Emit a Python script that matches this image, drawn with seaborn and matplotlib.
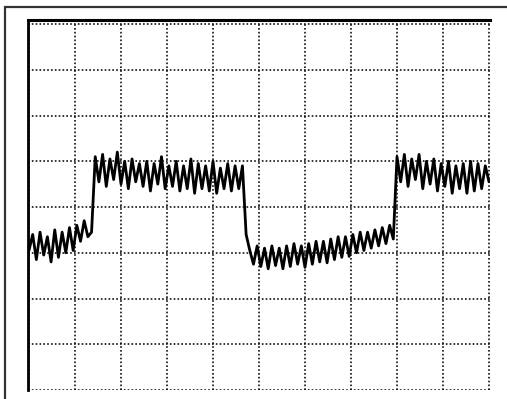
import numpy as np
import pandas as pd
import matplotlib
matplotlib.use("Agg")
import matplotlib.pyplot as plt
from matplotlib.patches import Rectangle
import seaborn as sns

# Oscilloscope trace, in screen divisions (10 x 8 graticule)
sample_step = 0.08  # divisions between samples
trace_values = [
    3.05, 3.40, 2.85, 3.45, 2.95, 3.35, 2.80, 3.50, 2.90, 3.45,
    3.00, 3.55, 3.05, 3.60, 3.25, 3.70, 3.35, 3.45,
    5.10, 4.55, 5.15, 4.45, 5.05, 4.60, 5.20, 4.50, 5.00, 4.40,
    5.05, 4.55, 4.95, 4.45, 5.00, 4.35, 4.95, 4.50, 5.10, 4.40,
    4.90, 4.45, 5.00, 4.35, 4.90, 4.40, 5.05, 4.30, 4.95, 4.40,
    4.90, 4.35, 5.00, 4.30, 4.85, 4.40, 4.95, 4.35, 4.90, 4.40, 4.90,
    3.40, 3.05, 2.75,
    3.15, 2.70, 3.10, 2.65, 3.15, 2.72, 3.10, 2.65, 3.15, 2.70,
    3.20, 2.75, 3.15, 2.68, 3.20, 2.75, 3.25, 2.80, 3.25, 2.78,
    3.30, 2.85, 3.35, 2.90, 3.35, 2.92, 3.40, 3.00, 3.45, 3.05,
    3.45, 3.10, 3.50, 3.15, 3.55, 3.20, 3.60, 3.30,
    5.10, 4.55, 5.15, 4.45, 5.05, 4.60, 5.15, 4.40, 5.00, 4.50,
    5.05, 4.35, 4.95, 4.45, 5.00, 4.30, 4.90, 4.40, 4.95, 4.30,
    5.00, 4.35, 4.95, 4.40, 4.90, 4.55,
]
x_divisions = list(range(0, 11))
y_divisions = list(range(0, 9))

time_div = np.arange(len(trace_values)) * sample_step
df = pd.DataFrame({"t": time_div, "v": trace_values})

sns.set_style("white")
plt.rcParams["font.family"] = ["DejaVu Sans"]

fig = plt.figure(figsize=(5.07, 3.99), dpi=100)
W, H = 507, 399
left_px, right_px, top_px, bottom_px = 28, 490, 20, 390
ax = fig.add_axes([left_px / W, 1 - bottom_px / H,
                   (right_px - left_px) / W, (bottom_px - top_px) / H])

xmin = -1 / 46
xmax = 10 + 1 / 46
ymin = 0
ymax = 8 + 4 / 45.75
ax.set_xlim(xmin, xmax)
ax.set_ylim(ymin, ymax)

# dotted graticule
for xv in x_divisions:
    ax.axvline(xv, color="#111111", lw=1.2, ls=(0, (1, 1.3)), zorder=1)
for yv in y_divisions:
    ax.axhline(yv, color="#111111", lw=1.2, ls=(0, (1, 1.3)), zorder=1)

sns.lineplot(data=df, x="t", y="v", ax=ax, color="black", linewidth=2.0,
             zorder=3, estimator=None, sort=False)

ax.set_xticks([])
ax.set_yticks([])
ax.set_xlabel("")
ax.set_ylabel("")
for s in ["right", "bottom"]:
    ax.spines[s].set_visible(False)
ax.spines["left"].set_linewidth(2)
ax.spines["top"].set_linewidth(2.2)
ax.spines["left"].set_color("black")
ax.spines["top"].set_color("black")

# outer frame of the scanned figure
fig.patches.append(Rectangle((5 / W, -0.05), 1.1, 1 - 7 / H + 0.05,
                             transform=fig.transFigure, fill=False,
                             edgecolor="#333333", linewidth=1.6))

fig.savefig("out.png", dpi=100)
